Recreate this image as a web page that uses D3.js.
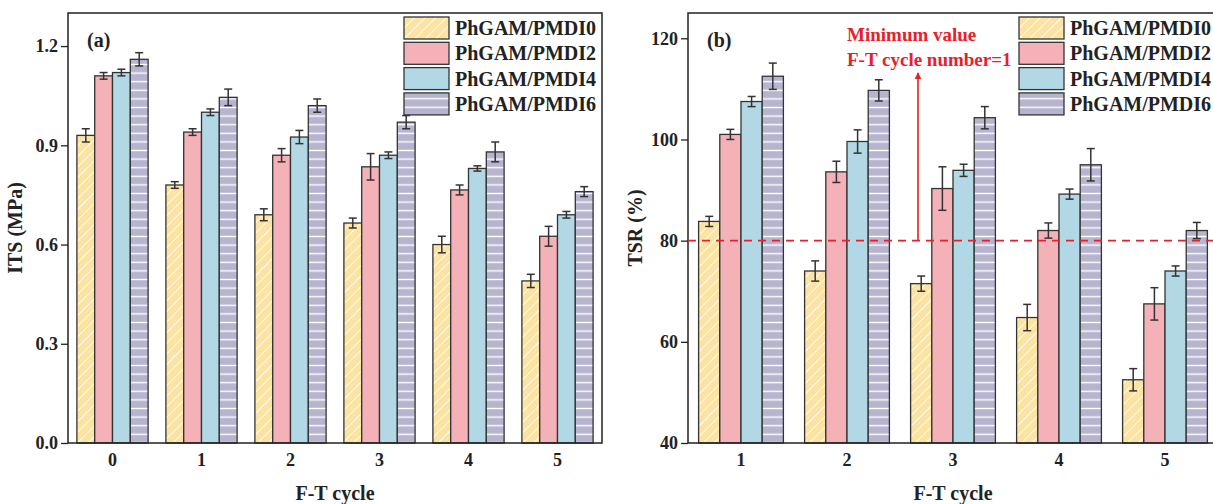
<!DOCTYPE html>
<html>
<head>
<meta charset="utf-8">
<script src="https://cdn.jsdelivr.net/npm/d3@7"></script>
<style>
  body { margin: 0; background: #fff; }
  text { font-family: "Liberation Serif", "Times New Roman", serif; font-weight: bold; fill: #222; }
</style>
</head>
<body>
<div id="chart"></div>
<script>
// data
var seriesNames = ["PhGAM/PMDI0", "PhGAM/PMDI2", "PhGAM/PMDI4", "PhGAM/PMDI6"];

var cyclesA = ["0", "1", "2", "3", "4", "5"];
var itsPMDI0 = [0.93, 0.78, 0.69, 0.665, 0.60, 0.49];
var itsPMDI2 = [1.11, 0.94, 0.87, 0.835, 0.765, 0.625];
var itsPMDI4 = [1.12, 1.00, 0.925, 0.87, 0.83, 0.69];
var itsPMDI6 = [1.16, 1.045, 1.02, 0.97, 0.88, 0.76];
var itsErr0 = [0.02, 0.01, 0.018, 0.015, 0.025, 0.02];
var itsErr2 = [0.01, 0.01, 0.02, 0.04, 0.015, 0.03];
var itsErr4 = [0.01, 0.01, 0.02, 0.01, 0.008, 0.01];
var itsErr6 = [0.02, 0.025, 0.02, 0.02, 0.03, 0.015];
var itsTicks = [0.0, 0.3, 0.6, 0.9, 1.2];

var cyclesB = ["1", "2", "3", "4", "5"];
var tsrPMDI0 = [83.8, 74.0, 71.5, 64.8, 52.5];
var tsrPMDI2 = [101.0, 93.6, 90.3, 82.0, 67.5];
var tsrPMDI4 = [107.5, 99.6, 93.9, 89.2, 74.0];
var tsrPMDI6 = [112.5, 109.7, 104.3, 95.0, 82.0];
var tsrErr0 = [1.0, 2.0, 1.5, 2.6, 2.2];
var tsrErr2 = [1.0, 2.1, 4.3, 1.5, 3.2];
var tsrErr4 = [1.0, 2.3, 1.2, 1.0, 1.0];
var tsrErr6 = [2.6, 2.1, 2.2, 3.2, 1.6];
var tsrTicks = [40, 60, 80, 100, 120];
var minValue = 80;

var svgWidth = 1213;
var svgHeight = 504;

var svg = d3.select("#chart")
  .append("svg")
  .attr("width", svgWidth)
  .attr("height", svgHeight);

// patterns
var defs = svg.append("defs");
var diag = defs.append("pattern")
  .attr("id", "diag")
  .attr("patternUnits", "userSpaceOnUse")
  .attr("width", 7.5).attr("height", 7.5)
  .attr("patternTransform", "rotate(45)");
diag.append("rect").attr("width", 7.5).attr("height", 7.5).attr("fill", "#fde3a1");
diag.append("line").attr("x1", 0).attr("y1", 0).attr("x2", 0).attr("y2", 7.5)
  .attr("stroke", "#fff").attr("stroke-width", 1.8);

var horiz = defs.append("pattern")
  .attr("id", "horiz")
  .attr("patternUnits", "userSpaceOnUse")
  .attr("width", 8).attr("height", 8.6);
horiz.append("rect").attr("width", 8).attr("height", 8.6).attr("fill", "#b7b4cf");
horiz.append("line").attr("x1", 0).attr("y1", 4.3).attr("x2", 8).attr("y2", 4.3)
  .attr("stroke", "#fff").attr("stroke-width", 1.4);

var fills = ["url(#diag)", "#f4b2b8", "#b2d7e5", "url(#horiz)"];

function drawPanel(opt) {
  var left = opt.left, right = opt.right, top = 13, bottom = 443;
  var g = svg.append("g");

  var x0 = d3.scaleBand().domain(opt.cats).range([left, right]).paddingInner(0).paddingOuter(0);
  var x1 = d3.scaleBand().domain(seriesNames).range([0, x0.bandwidth() * 0.8]);
  var y = d3.scaleLinear().domain(opt.domain).range([bottom, top]);

  var rows = [];
  opt.cats.forEach(function(c, i) {
    seriesNames.forEach(function(s, j) {
      rows.push({ cat: c, s: s, j: j, v: opt.values[j][i], e: opt.errors[j][i] });
    });
  });

  var off = x0.bandwidth() * 0.1;
  g.selectAll("rect.bar").data(rows).enter().append("rect")
    .attr("class", "bar")
    .attr("x", d => x0(d.cat) + off + x1(d.s))
    .attr("y", d => y(d.v))
    .attr("width", x1.bandwidth())
    .attr("height", d => bottom - y(d.v))
    .attr("fill", d => fills[d.j])
    .attr("stroke", "#333")
    .attr("stroke-width", 1.3);

  // error bars
  var eb = g.selectAll("g.err").data(rows).enter().append("g")
    .attr("stroke", "#333").attr("stroke-width", 1.5);
  eb.append("line")
    .attr("x1", d => x0(d.cat) + off + x1(d.s) + x1.bandwidth() / 2)
    .attr("x2", d => x0(d.cat) + off + x1(d.s) + x1.bandwidth() / 2)
    .attr("y1", d => y(d.v + d.e)).attr("y2", d => y(d.v - d.e));
  [1, -1].forEach(function(sg) {
    eb.append("line")
      .attr("x1", d => x0(d.cat) + off + x1(d.s) + x1.bandwidth() / 2 - 4)
      .attr("x2", d => x0(d.cat) + off + x1(d.s) + x1.bandwidth() / 2 + 4)
      .attr("y1", d => y(d.v + sg * d.e)).attr("y2", d => y(d.v + sg * d.e));
  });

  // left axis
  var leftAxis = d3.axisLeft(y).tickValues(opt.ticks).tickSize(7).tickPadding(3)
    .tickFormat(opt.fmt);
  var ya = g.append("g").attr("transform", `translate(${left},0)`).call(leftAxis);
  ya.select(".domain").remove();
  ya.selectAll("line").attr("stroke", "#222").attr("stroke-width", 1.3);
  ya.selectAll("text").style("font-size", "18px").attr("fill", "#222")
    .attr("font-family", null);

  // bottom axis labels
  var bottomAxis = d3.axisBottom(x0).tickSize(0).tickPadding(10);
  var xa = g.append("g").attr("transform", `translate(0,${bottom})`).call(bottomAxis);
  xa.select(".domain").remove();
  xa.selectAll("text").style("font-size", "18px").attr("fill", "#222")
    .attr("font-family", null);

  // frame
  g.append("rect")
    .attr("x", left).attr("y", top)
    .attr("width", right - left).attr("height", bottom - top)
    .attr("fill", "none").attr("stroke", "#222").attr("stroke-width", 1.5);

  // axis titles
  g.append("text")
    .attr("x", (left + right) / 2).attr("y", 500)
    .attr("text-anchor", "middle")
    .style("font-size", "20px")
    .text("F-T cycle");
  g.append("text")
    .attr("transform", `translate(${left - 46},${(top + bottom) / 2}) rotate(-90)`)
    .attr("text-anchor", "middle")
    .style("font-size", "20px")
    .text(opt.ylabel);

  g.append("text")
    .attr("x", left + 19).attr("y", 47)
    .style("font-size", "20px")
    .text(opt.tag);

  // legend
  var lg = g.append("g").attr("transform", `translate(${opt.legendX},17)`);
  seriesNames.forEach(function(s, j) {
    lg.append("rect")
      .attr("x", 0).attr("y", j * 25.3)
      .attr("width", 45).attr("height", 22)
      .attr("fill", fills[j]).attr("stroke", "#333").attr("stroke-width", 1.3);
    lg.append("text")
      .attr("x", 51).attr("y", j * 25.3 + 18)
      .style("font-size", "20px")
      .text(s);
  });

  return { g: g, x0: x0, y: y, left: left, right: right };
}

var pa = drawPanel({
  left: 68, right: 602, cats: cyclesA, domain: [0, 1.3],
  values: [itsPMDI0, itsPMDI2, itsPMDI4, itsPMDI6],
  errors: [itsErr0, itsErr2, itsErr4, itsErr6],
  ticks: itsTicks, fmt: d3.format(".1f"), ylabel: "ITS (MPa)", tag: "(a)", legendX: 404
});

var pb = drawPanel({
  left: 688, right: 1218, cats: cyclesB, domain: [40, 125],
  values: [tsrPMDI0, tsrPMDI2, tsrPMDI4, tsrPMDI6],
  errors: [tsrErr0, tsrErr2, tsrErr4, tsrErr6],
  ticks: tsrTicks, fmt: d3.format("d"), ylabel: "TSR (%)", tag: "(b)", legendX: 1019
});

// minimum value line and annotation
var red = "#e8202a";
pb.g.append("line")
  .attr("x1", pb.left).attr("x2", pb.right)
  .attr("y1", pb.y(minValue)).attr("y2", pb.y(minValue))
  .attr("stroke", red).attr("stroke-width", 1.6)
  .attr("stroke-dasharray", "8,6");

defs.append("marker")
  .attr("id", "arrow")
  .attr("viewBox", "0 0 10 10")
  .attr("refX", 9).attr("refY", 5)
  .attr("markerWidth", 7).attr("markerHeight", 9)
  .attr("orient", "auto")
  .attr("markerUnits", "userSpaceOnUse")
  .append("path").attr("d", "M0,0 L10,5 L0,10 Z").attr("fill", red);

pb.g.append("line")
  .attr("x1", 918).attr("x2", 918)
  .attr("y1", pb.y(minValue)).attr("y2", 73)
  .attr("stroke", red).attr("stroke-width", 1.6)
  .attr("marker-end", "url(#arrow)");

pb.g.append("text")
  .attr("x", 847).attr("y", 41)
  .style("font-size", "19px").style("fill", red)
  .text("Minimum value");
pb.g.append("text")
  .attr("x", 847).attr("y", 66)
  .style("font-size", "19px").style("fill", red)
  .text("F-T cycle number=1");
</script>
</body>
</html>
